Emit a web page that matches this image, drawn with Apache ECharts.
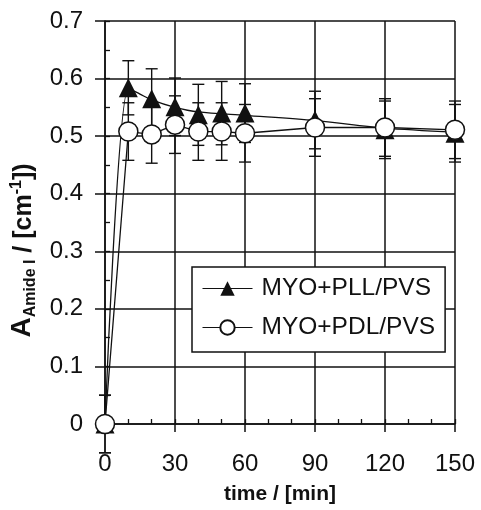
<!DOCTYPE html>
<html>
<head>
<meta charset="utf-8">
<script src="https://cdn.jsdelivr.net/npm/echarts@6/dist/echarts.min.js"></script>
<style>
  html, body { margin: 0; padding: 0; background: #fff; }
  #chart { width: 481px; height: 510px; }
</style>
</head>
<body>
<div id="chart"></div>
<script>
// Sampling times (min)
const times = [0, 10, 20, 30, 40, 50, 60, 90, 120, 150];

// Amide I absorbance, MYO+PLL/PVS (filled triangles) and its error
const pllValues = [0, 0.584, 0.565, 0.551, 0.537, 0.540, 0.540, 0.528, 0.511, 0.505];
const pllErrors = [0.05, 0.047, 0.052, 0.05, 0.053, 0.055, 0.051, 0.05, 0.05, 0.05];

// Trend curve drawn through the PLL points
const pllTrendTimes = [0, 10, 15, 20, 30, 40, 60, 90, 120, 150];
const pllTrendValues = [0, 0.583, 0.573, 0.563, 0.550, 0.542, 0.536, 0.527, 0.514, 0.507];

// Amide I absorbance, MYO+PDL/PVS (open circles) and its error
const pdlValues = [0, 0.508, 0.503, 0.520, 0.508, 0.508, 0.505, 0.515, 0.515, 0.511];
const pdlErrors = [0.05, 0.05, 0.05, 0.05, 0.05, 0.05, 0.05, 0.05, 0.05, 0.05];

// Axis ticks
const xTicks = [0, 30, 60, 90, 120, 150];
const yTicks = [0, 0.1, 0.2, 0.3, 0.4, 0.5, 0.6, 0.7];

const seriesNames = ['MYO+PLL/PVS', 'MYO+PDL/PVS'];

const INK = '#111';
const FONT = '"Liberation Sans", Arial, sans-serif';

const pair = (xs, ys) => xs.map((x, i) => [x, ys[i]]);
const withErr = (xs, ys, es) => xs.map((x, i) => [x, ys[i], ys[i] - es[i], ys[i] + es[i]]);

// Vertical error bar with short caps
function errorBar(params, api) {
  const x = api.value(0);
  const lo = api.coord([x, api.value(2)]);
  const hi = api.coord([x, api.value(3)]);
  const half = 6;
  const style = { stroke: INK, lineWidth: 1.4 };
  return {
    type: 'group',
    children: [
      { type: 'line', shape: { x1: lo[0], y1: lo[1], x2: hi[0], y2: hi[1] }, style },
      { type: 'line', shape: { x1: lo[0] - half, y1: lo[1], x2: lo[0] + half, y2: lo[1] }, style },
      { type: 'line', shape: { x1: hi[0] - half, y1: hi[1], x2: hi[0] + half, y2: hi[1] }, style }
    ]
  };
}

const xMin = xTicks[0], xMax = xTicks[xTicks.length - 1];
const yMin = yTicks[0], yMax = yTicks[yTicks.length - 1];

const chart = echarts.init(document.getElementById('chart'), null, { renderer: 'canvas' });

chart.setOption({
  animation: false,
  backgroundColor: '#fff',
  textStyle: { fontFamily: FONT, color: INK },
  grid: { left: 105, right: 26, top: 21, bottom: 86, containLabel: false },
  xAxis: [
    {
      type: 'value', min: xMin, max: xMax, interval: 30,
      name: 'time / [min]', nameLocation: 'middle', nameGap: 60,
      nameTextStyle: { fontFamily: FONT, fontSize: 21, fontWeight: 'bold', color: INK },
      axisLine: { show: true, onZero: false, lineStyle: { color: INK, width: 1.5 } },
      axisTick: { show: true, inside: false, length: 8, lineStyle: { color: INK, width: 1.5 } },
      axisLabel: { fontFamily: FONT, fontSize: 24, color: INK, margin: 28 },
      splitLine: { show: true, lineStyle: { color: INK, width: 1.5 } }
    },
    {
      // inward minor ticks every 10 min
      type: 'value', min: xMin, max: xMax, interval: 10, position: 'bottom',
      axisLine: { show: false },
      axisTick: { show: true, inside: true, length: 5, lineStyle: { color: INK, width: 1.3 } },
      axisLabel: { show: false },
      splitLine: { show: false }
    }
  ],
  yAxis: [
    {
      type: 'value', min: yMin, max: yMax, interval: 0.1,
      name: '{a|A}{sub|Amide I}{t| / [cm}{sup|-1}{t|])}',
      nameLocation: 'middle', nameGap: 66, nameRotate: 90,
      nameTextStyle: {
        fontFamily: FONT, fontWeight: 'bold', color: INK, padding: [0, 56, 0, 0],
        rich: {
          a: { fontFamily: FONT, fontSize: 28, fontWeight: 'bold', color: INK, verticalAlign: 'bottom' },
          sub: { fontFamily: FONT, fontSize: 16, fontWeight: 'bold', color: INK, verticalAlign: 'bottom', padding: [0, 0, -2, 0] },
          t: { fontFamily: FONT, fontSize: 25, fontWeight: 'bold', color: INK, verticalAlign: 'bottom' },
          sup: { fontFamily: FONT, fontSize: 16, fontWeight: 'bold', color: INK, verticalAlign: 'top' }
        }
      },
      axisLine: { show: true, onZero: false, lineStyle: { color: INK, width: 1.5 } },
      axisTick: { show: true, inside: false, length: 10, lineStyle: { color: INK, width: 1.5 } },
      axisLabel: {
        fontFamily: FONT, fontSize: 24, color: INK, margin: 22,
        formatter: v => (v === 0 ? '0' : v.toFixed(1))
      },
      splitLine: { show: true, lineStyle: { color: INK, width: 1.5 } }
    },
    {
      // minor ticks every 0.05
      type: 'value', min: yMin, max: yMax, interval: 0.05, position: 'left',
      axisLine: { show: false },
      axisTick: { show: true, inside: true, length: 5, lineStyle: { color: INK, width: 1.3 } },
      axisLabel: { show: false },
      splitLine: { show: false }
    }
  ],
  legend: {
    orient: 'vertical',
    left: 192, top: 267,
    padding: [9, 10, 12, 10],
    itemGap: 14,
    itemWidth: 50, itemHeight: 18,
    backgroundColor: '#fff',
    borderColor: INK, borderWidth: 1.5, borderRadius: 0,
    textStyle: { fontFamily: FONT, fontSize: 24.5, color: INK, padding: [0, 0, 0, 4] },
    data: [
      { name: seriesNames[0], lineStyle: { opacity: 1, color: INK, width: 1 } },
      { name: seriesNames[1], lineStyle: { color: INK, width: 1 } }
    ]
  },
  series: [
    {
      name: 'PLL error', type: 'custom', xAxisIndex: 0, yAxisIndex: 0,
      renderItem: errorBar, data: withErr(times, pllValues, pllErrors),
      clip: false, z: 1, silent: true
    },
    {
      name: 'PDL error', type: 'custom', xAxisIndex: 0, yAxisIndex: 0,
      renderItem: errorBar, data: withErr(times, pdlValues, pdlErrors),
      clip: false, z: 1, silent: true
    },
    {
      name: 'PLL trend', type: 'line', xAxisIndex: 0, yAxisIndex: 0,
      data: pair(pllTrendTimes, pllTrendValues),
      smooth: 0.3, showSymbol: false, symbol: 'none',
      lineStyle: { color: INK, width: 1.3 }, z: 2, silent: true
    },
    {
      name: seriesNames[0], type: 'line', xAxisIndex: 0, yAxisIndex: 0,
      data: pair(times, pllValues),
      symbol: 'triangle', symbolSize: 19,
      itemStyle: { color: INK, borderColor: INK, borderWidth: 0 },
      lineStyle: { opacity: 0, color: INK },
      z: 3
    },
    {
      name: seriesNames[1], type: 'line', xAxisIndex: 0, yAxisIndex: 0,
      data: pair(times, pdlValues),
      symbol: 'circle', symbolSize: 19,
      itemStyle: { color: '#fff', borderColor: INK, borderWidth: 1.5 },
      lineStyle: { color: INK, width: 1.3 },
      z: 4
    }
  ]
});
</script>
</body>
</html>
